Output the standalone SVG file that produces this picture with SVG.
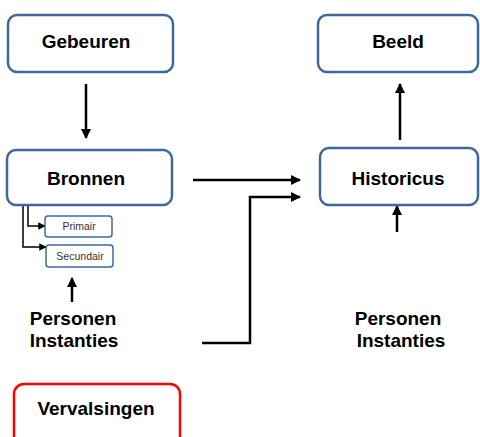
<svg xmlns="http://www.w3.org/2000/svg" width="480" height="437" viewBox="0 0 480 437">
<defs>
<marker id="ah" viewBox="0 0 10 10" refX="9" refY="5" markerWidth="4.5" markerHeight="4" markerUnits="strokeWidth" orient="auto">
<path d="M0,0 L10,5 L0,10 z" fill="#000"/>
</marker>
<marker id="ahs" viewBox="0 0 10 10" refX="9" refY="5" markerWidth="5" markerHeight="5" markerUnits="strokeWidth" orient="auto">
<path d="M0,0 L10,5 L0,10 z" fill="#000"/>
</marker>
</defs>
<style>
.box{fill:#fff;stroke:#41689A;stroke-width:2.5}
.sbox{fill:#fff;stroke:#41689A;stroke-width:1.5}
.red{fill:#fff;stroke:#FF0000;stroke-width:2.5}
.t{font-family:"Liberation Sans",Arial,sans-serif;font-weight:bold;font-size:19px;fill:#000;text-anchor:middle}
.s{font-family:"Liberation Sans",Arial,sans-serif;font-size:10.5px;fill:#333;text-anchor:middle}
.c{fill:none;stroke:#000;stroke-width:2.5;marker-end:url(#ah)}
.cs{fill:none;stroke:#000;stroke-width:1.5;marker-end:url(#ahs)}
</style>
<rect width="480" height="437" fill="#fff"/>
<g id="connectors">
<path class="c" d="M86,84 V138"/>
<path class="c" d="M400,140 V84"/>
<path class="c" d="M193,180 H300"/>
<path class="c" d="M202,343 H250 V197 H300"/>
<path class="c" d="M397,232 V206"/>
<path class="c" d="M72,302 V278"/>
<path class="cs" d="M28,206 V226 H45"/>
<path class="cs" d="M23,206 V247 H46"/>
</g>
<g id="gebeuren"><rect class="box" x="8" y="15" width="165" height="57" rx="9"/><text class="t" x="86" y="48">Gebeuren</text></g>
<g id="beeld"><rect class="box" x="318" y="15" width="160" height="57" rx="9"/><text class="t" x="398" y="48">Beeld</text></g>
<g id="bronnen"><rect class="box" x="7" y="150" width="165" height="55" rx="9"/><text class="t" x="86" y="185">Bronnen</text></g>
<g id="historicus"><rect class="box" x="320" y="148" width="158" height="57" rx="9"/><text class="t" x="398" y="185">Historicus</text></g>
<g id="primair"><rect class="sbox" x="45" y="216" width="67" height="21" rx="3"/><text class="s" x="79" y="230">Primair</text></g>
<g id="secundair"><rect class="sbox" x="46" y="245" width="67" height="22" rx="3"/><text class="s" x="80" y="260">Secundair</text></g>
<g id="personen-links"><text class="t" x="73" y="325">Personen</text><text class="t" x="74" y="347">Instanties</text></g>
<g id="personen-rechts"><text class="t" x="398" y="325">Personen</text><text class="t" x="401" y="347">Instanties</text></g>
<g id="vervalsingen"><rect class="red" x="14" y="384" width="166" height="70" rx="10"/><text class="t" x="96" y="415">Vervalsingen</text></g>
</svg>
